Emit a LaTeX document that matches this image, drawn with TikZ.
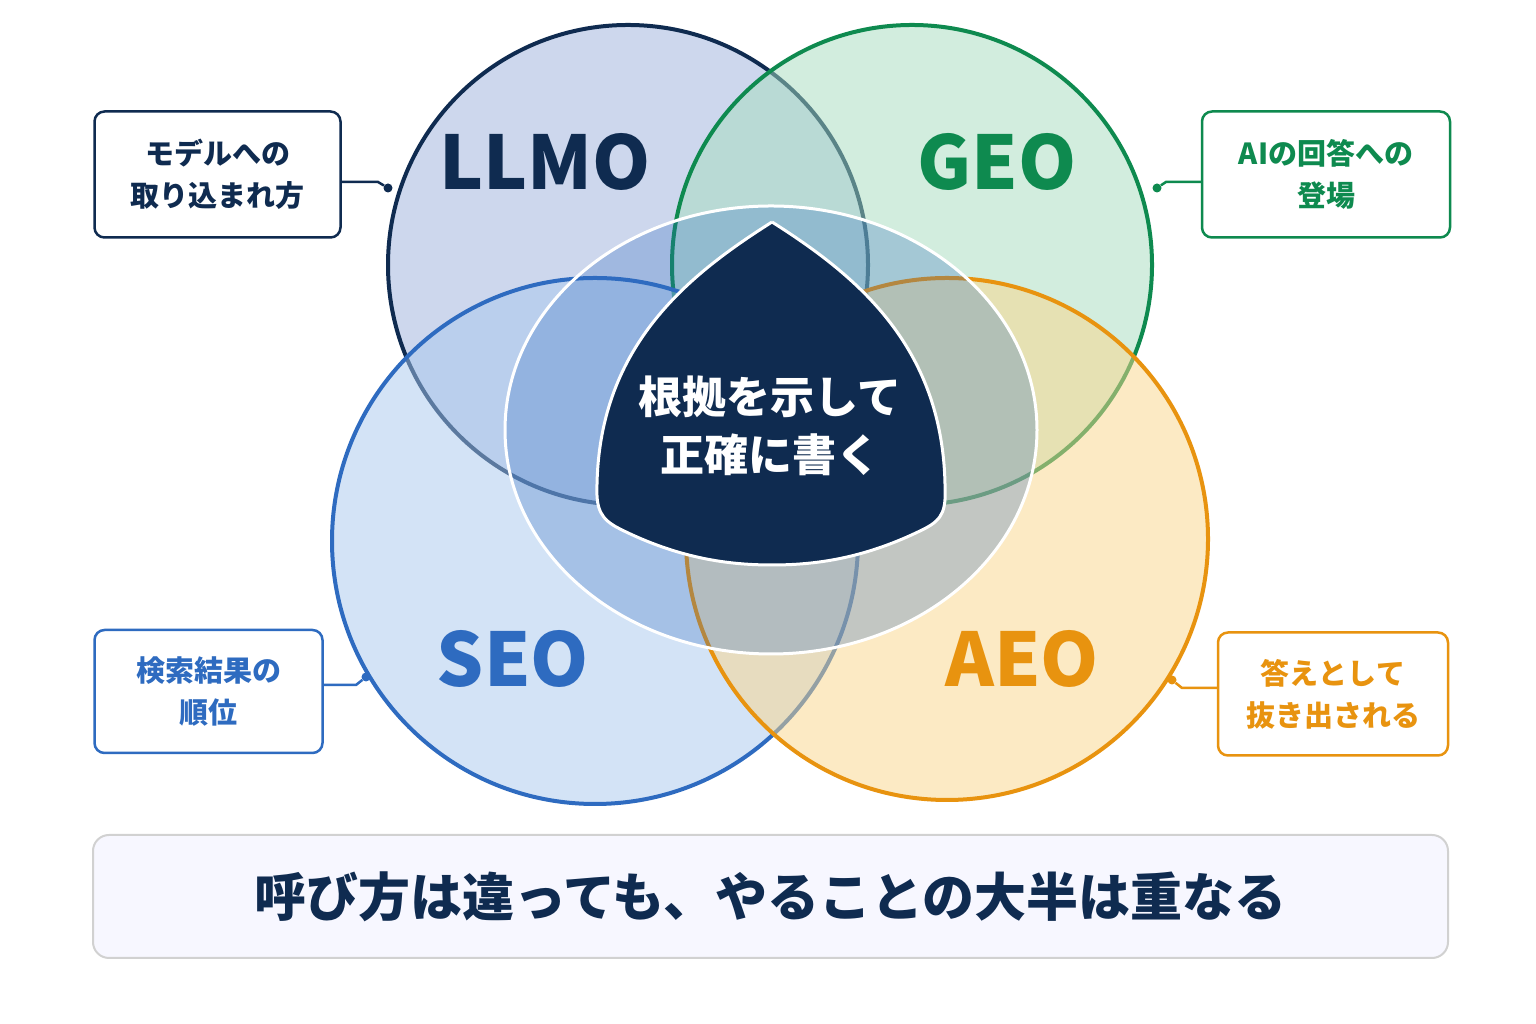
\documentclass[tikz,border=0pt]{standalone}
\usepackage{fontspec}
\newfontfamily\cjk{Noto Sans CJK JP}
\usetikzlibrary{calc}
\definecolor{navy}{HTML}{0F2B50}
\definecolor{grn}{HTML}{0E8A4F}
\definecolor{blu}{HTML}{2E6BC0}
\definecolor{org}{HTML}{E8930F}
\definecolor{fL}{HTML}{9DB1DC}
\definecolor{fG}{HTML}{A6DDBF}
\definecolor{fS}{HTML}{A8C8EE}
\definecolor{fA}{HTML}{FBD68A}
\begin{document}
\begin{tikzpicture}[x=1pt,y=1pt,
 circ/.style={line width=4pt, fill opacity=0.5},
 title/.style={font=\cjk\bfseries\fontsize{74}{80}\selectfont},
 box/.style={draw, line width=2.5pt, rounded corners=10pt, fill=white, align=center, font=\cjk\bfseries\fontsize{29}{42}\selectfont, inner sep=0pt},
 dot/.style={circle, fill, inner sep=0pt, minimum size=9pt},
 conn/.style={line width=2.5pt}]
\useasboundingbox (0,0) rectangle (1536,1024);
\fill[white] (0,0) rectangle (1536,1024);
\draw[circ, draw=navy, fill=fL] (628,759) circle (240);
\draw[circ, draw=grn, fill=fG] (912,759) circle (240);
\draw[circ, draw=blu, fill=fS] (595,483) circle (263);
\draw[circ, draw=org, fill=fA] (947,485) circle (261);
\draw[white, line width=3pt, fill=blu, fill opacity=0.28] (771,594) ellipse (266 and 224);
\node[title, text=navy] (tL) at (545,862) {LLMO};
\node[title, text=grn] (tG) at (997,862) {GEO};
\node[title, text=blu] (tS) at (513,365) {SEO};
\node[title, text=org] (tA) at (1022,365) {AEO};
\draw[white, line width=3pt, fill=navy] (772,802) .. controls (690,750) and (600,680) .. (597,540) .. controls (596,515) and (600,505) .. (620,495) .. controls (680,465) and (730,459) .. (772,459) .. controls (814,459) and (864,465) .. (924,495) .. controls (944,505) and (946,515) .. (945,540) .. controls (942,680) and (854,750) .. (772,802);
\node[align=center, text=white, font=\cjk\bfseries\fontsize{44}{58}\selectfont] (c) at (770,598) {根拠を示して\\正確に書く};
\node[box, draw=navy, text=navy, minimum width=246pt, minimum height=126pt] (bL) at (217.5,849.5) {モデルへの\\取り込まれ方};
\node[box, draw=grn, text=grn, minimum width=248pt, minimum height=126pt] (bG) at (1326,849.5) {AIの回答への\\登場};
\node[box, draw=blu, text=blu, minimum width=228pt, minimum height=123pt] (bS) at (208.5,332.5) {検索結果の\\順位};
\node[box, draw=org, text=org, minimum width=230pt, minimum height=123pt] (bA) at (1333,330) {答えとして\\抜き出される};
\node[dot, navy] (dL) at (388,836) {};
\node[dot, grn] (dG) at (1157,836) {};
\node[dot, blu] (dS) at (366,347) {};
\node[dot, org] (dA) at (1172,344) {};
\draw[conn, navy] (bL.east |- 0,842) -- (378,842) -- (dL);
\draw[conn, grn] (bG.west |- 0,842) -- (1166,842) -- (dG);
\draw[conn, blu] (bS.east |- 0,339) -- (356,339) -- (dS);
\draw[conn, org] (bA.west |- 0,336) -- (1182,336) -- (dA);
\node[draw=black!18, line width=2pt, rounded corners=16pt, fill=blue!3, minimum width=1355pt, minimum height=123pt, text=navy, font=\cjk\bfseries\fontsize{52}{60}\selectfont] (banner) at (770.5,127.5) {呼び方は違っても、やることの大半は重なる};
\end{tikzpicture}
\end{document}
